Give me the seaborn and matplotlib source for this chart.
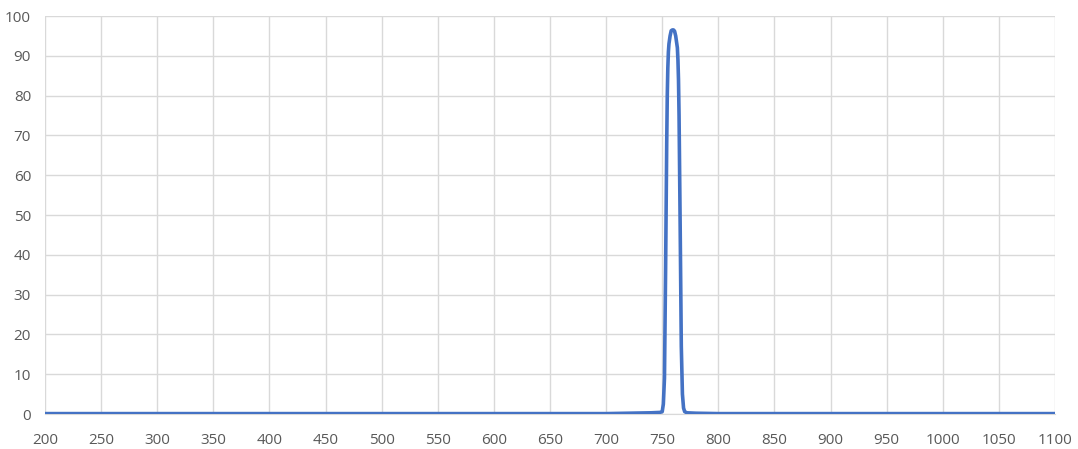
import pandas as pd
import seaborn as sns
import matplotlib.pyplot as plt

# wavelength (nm) and transmission (%)
wavelength = [200, 300, 400, 500, 600, 700, 720, 740, 748, 750, 751, 752, 753, 754, 754.5,
              755, 755.5, 756, 757, 758, 759, 760, 761, 762, 763, 763.5, 764, 764.5,
              765, 766, 767, 768, 769, 770, 772, 780, 800, 900, 1000, 1100]
transmission = [0.1, 0.1, 0.1, 0.1, 0.1, 0.1, 0.2, 0.3, 0.4, 0.6, 2.5, 9, 36, 68, 80,
                87, 91, 93, 95, 96.3, 96.5, 96.5, 96.2, 95, 93, 92, 89, 84,
                75, 47, 17, 5, 1.5, 0.6, 0.3, 0.2, 0.1, 0.1, 0.1, 0.1]

x_ticks = list(range(200, 1101, 50))
y_ticks = list(range(0, 101, 10))

df = pd.DataFrame({'Wavelength': wavelength, 'Transmission': transmission})

sns.set_style('white')
plt.rcParams['font.family'] = ['Open Sans', 'DejaVu Sans']

fig = plt.figure(figsize=(10.78, 4.49), dpi=100)
ax = fig.add_axes([45 / 1078, 1 - 414 / 449, 1010 / 1078, 398 / 449])

sns.lineplot(data=df, x='Wavelength', y='Transmission', color='#4472C4',
             linewidth=2.6, ax=ax, zorder=3)

ax.set_xlim(200, 1100)
ax.set_ylim(0, 100)
ax.set_xticks(x_ticks)
ax.set_yticks(y_ticks)
ax.set_xlabel('')
ax.set_ylabel('')
ax.grid(True, color='#d9d9d9', linewidth=1)
for s in ax.spines.values():
    s.set_visible(False)
ax.spines['bottom'].set_visible(True)
ax.spines['bottom'].set_color('#d9d9d9')
ax.tick_params(axis='both', length=0, labelsize=11, colors='#595959')
ax.tick_params(axis='x', pad=14)
ax.tick_params(axis='y', pad=10)

fig.savefig('out.png', dpi=100)
